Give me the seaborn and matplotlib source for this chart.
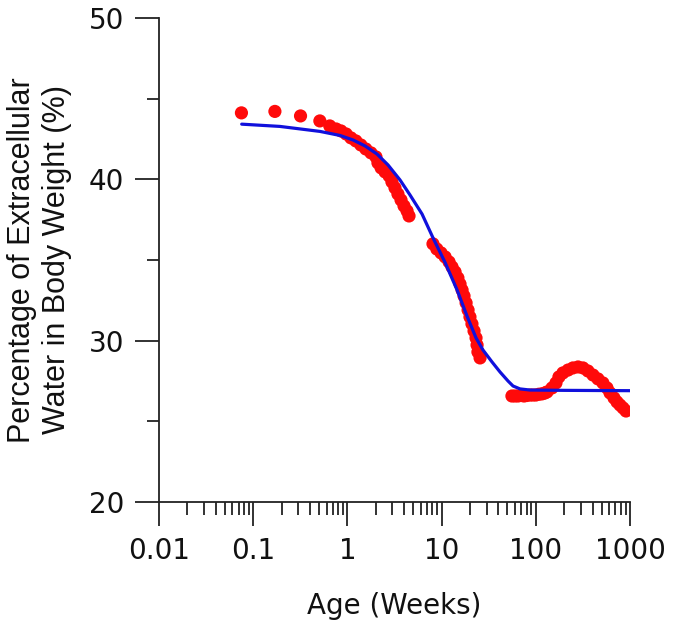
import numpy as np
import pandas as pd
import matplotlib.pyplot as plt
import seaborn as sns
from matplotlib.ticker import LogLocator, FixedLocator, NullFormatter, FuncFormatter

# measured points (age in weeks, % extracellular water)
age_obs = [0.075, 0.17, 0.318, 0.51, 0.65, 0.76, 0.855, 0.97, 1.09, 1.23,
           1.39, 1.57, 1.78, 2.01, 2.11, 2.28, 2.51, 2.77, 2.97, 3.20,
           3.44, 3.71, 3.99, 4.30, 4.51,
           8.1, 8.9, 9.86, 10.9, 12.0, 12.9, 13.9, 14.9, 15.7, 16.5,
           17.3, 18.2, 19.1, 20.0, 21.0, 22.1, 23.2, 23.8, 24.3, 25.6,
           55.8, 60.0, 64.7, 70.0, 75.0, 80.0, 86.8, 93.0, 100, 108, 116, 124, 131.5,
           148.6, 163.7, 176, 194, 220, 248, 281, 317, 358, 405,
           457, 516, 570, 614, 676, 728, 783, 843, 907]
ecw_obs = [44.12, 44.21, 43.93, 43.62, 43.31, 43.12, 43.00, 42.81, 42.57, 42.38,
           42.13, 41.88, 41.64, 41.39, 41.02, 40.71, 40.46, 40.21, 39.84, 39.47,
           39.09, 38.72, 38.35, 38.04, 37.73,
           36.0, 35.68, 35.44, 35.19, 34.88, 34.57, 34.26, 33.89, 33.51, 33.14,
           32.77, 32.34, 31.90, 31.47, 31.04, 30.60, 30.17, 29.73, 29.30, 28.93,
           26.57, 26.57, 26.57, 26.6, 26.57, 26.6, 26.63, 26.63, 26.63, 26.68, 26.70, 26.75, 26.82,
           27.07, 27.38, 27.75, 28.00, 28.18, 28.31, 28.37, 28.31, 28.12, 27.87,
           27.63, 27.38, 27.07, 26.76, 26.45, 26.20, 26.01, 25.83, 25.64]

# fitted curve
age_fit = [0.0755, 0.192, 0.512, 0.834, 1.146, 1.54, 2.06, 2.70, 3.62, 4.62,
           6.20, 8.11, 10.9, 14.6, 18.6, 23.2, 27.5, 34.3, 41.7, 50.7,
           57.3, 68.0, 86.7, 200, 1000]
ecw_fit = [43.42, 43.28, 42.97, 42.72, 42.44, 42.07, 41.57, 40.89, 39.96, 39.03,
           37.85, 36.37, 34.84, 33.14, 31.53, 30.17, 29.42, 28.68, 28.06, 27.50,
           27.19, 27.01, 26.94, 26.92, 26.90]

obs = pd.DataFrame({"Age": age_obs, "ECW": ecw_obs})
fit = pd.DataFrame({"Age": age_fit, "ECW": ecw_fit})

sns.set_style("ticks")
plt.rcParams['font.family'] = ['DejaVu Sans']

fig = plt.figure(figsize=(6.75, 6.28), dpi=100)
ax = fig.add_axes([159/675, 1-502/628, 471/675, 484/628])
ax.set_xscale('log')

sns.scatterplot(data=obs, x='Age', y='ECW', ax=ax, color='#ff0a0a', s=90,
                edgecolor='none', linewidth=0, zorder=2)
sns.lineplot(data=fit, x='Age', y='ECW', ax=ax, color='#1010dc', linewidth=2.3,
             zorder=3, errorbar=None)

ax.set_xlim(0.01, 1000)
ax.set_ylim(20, 50)
sns.despine(ax=ax)
for sp in ['left', 'bottom']:
    ax.spines[sp].set_linewidth(1.3)
    ax.spines[sp].set_color('#222222')

ax.xaxis.set_major_locator(FixedLocator([0.01, 0.1, 1, 10, 100, 1000]))
ax.xaxis.set_major_formatter(FuncFormatter(lambda v, p: f"{v:g}"))
ax.xaxis.set_minor_locator(LogLocator(base=10, subs=np.arange(2, 10)))
ax.xaxis.set_minor_formatter(NullFormatter())
ax.yaxis.set_major_locator(FixedLocator([20, 30, 40, 50]))
ax.yaxis.set_minor_locator(FixedLocator([25, 35, 45]))

ax.tick_params(axis='both', which='major', direction='out', length=17, width=1.3,
               color='#222222', labelsize=20, labelcolor='#111111')
ax.tick_params(axis='x', which='major', pad=8)
ax.tick_params(axis='y', which='major', pad=8)
ax.tick_params(axis='both', which='minor', direction='out', length=9, width=1.3,
               color='#222222')

ax.set_xlabel("Age (Weeks)", fontsize=20, color='#111111', labelpad=20)
ax.set_ylabel("Percentage of Extracellular\nWater in Body Weight (%)",
              fontsize=22, family='Liberation Sans', color='#111111',
              linespacing=1.2)
ax.yaxis.set_label_coords(-0.185, 0.5)

fig.savefig("out.png", dpi=100)
